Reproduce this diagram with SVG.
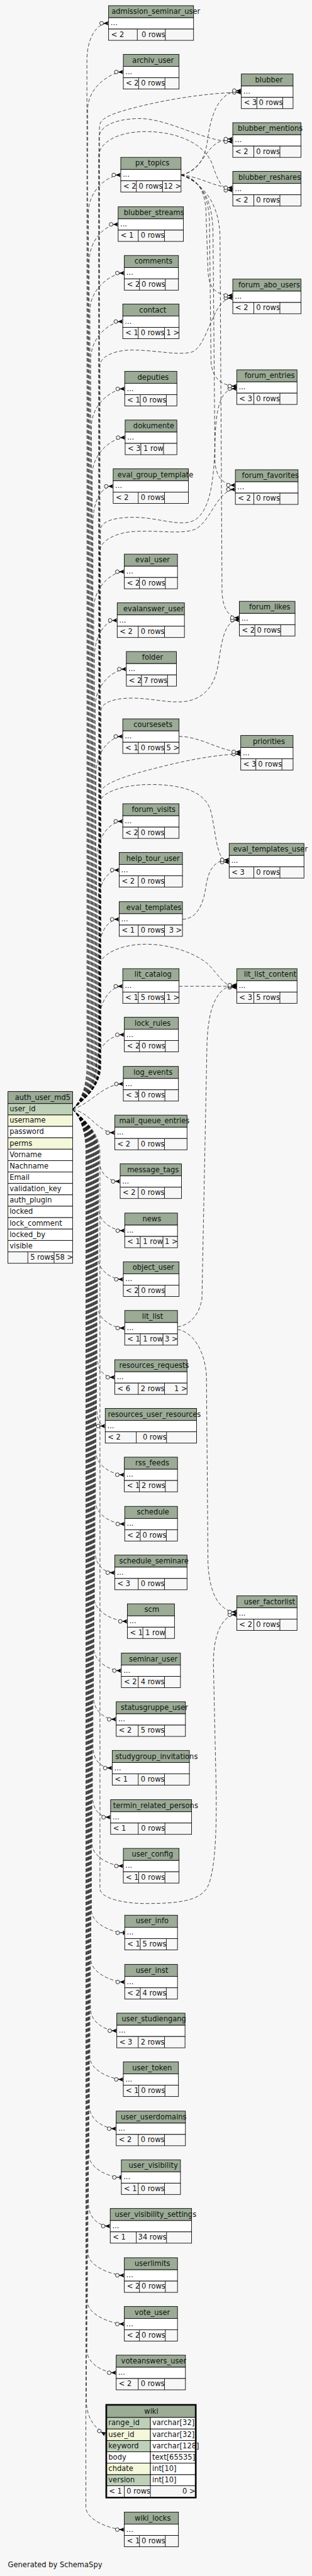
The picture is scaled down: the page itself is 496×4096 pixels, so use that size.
<svg xmlns="http://www.w3.org/2000/svg" width="496" height="4096" viewBox="0 0 496 4096">
<style>
.h{fill:#9bab96}.b{fill:#fff}.f{fill:#f7f7f7}.k{fill:#bed1b8}.i{fill:#f4f7da}
.tb rect{stroke:#000;stroke-width:1.1}
.dv{stroke:#000;stroke-width:1.1;fill:none}
text{font-family:"DejaVu Sans","Liberation Sans",sans-serif;font-size:14.4px;fill:#111}
.r{text-anchor:end}
.e{fill:none;stroke:#000;stroke-width:0.9;stroke-dasharray:7 4;marker-end:url(#cr)}
.e1{fill:none;stroke:#000;stroke-width:0.9;stroke-dasharray:7 4;marker-end:url(#tee)}
</style>
<defs>
<marker id="cr" viewBox="0 0 22 14" markerWidth="22" markerHeight="14" refX="21" refY="7" orient="auto" markerUnits="userSpaceOnUse" overflow="visible">
<path d="M10.5 7H21" stroke="#000" stroke-width="1" fill="none"/>
<polygon points="11,7 21,2.6 18.5,7 21,11.4" fill="#000"/>
<circle cx="7" cy="7" r="3.7" fill="#f7f7f7" stroke="#000" stroke-width="1"/>
</marker>
<marker id="tee" viewBox="0 0 22 14" markerWidth="22" markerHeight="14" refX="21" refY="7" orient="auto" markerUnits="userSpaceOnUse" overflow="visible">
<path d="M10.5 7H21" stroke="#000" stroke-width="1" fill="none"/>
<rect x="17.5" y="3" width="2.6" height="8" fill="#000"/>
<circle cx="7" cy="7" r="3.7" fill="#f7f7f7" stroke="#000" stroke-width="1"/>
</marker>
</defs>
<rect width="496" height="4096" fill="#f7f7f7"/>
<g transform="scale(0.7986)">
<g id="connectors">
<path class="e" d="M144.6 2208.7C158 2195 173 2170 173 2120L173 121.3C173 76.3 191.2 46.3 216.2 46.3"/>
<path class="e" d="M144.6 2208.7C158 2195 174.5 2170 174.5 2120L174.5 218.3C174.5 173.3 220.5 143.3 245.5 143.3"/>
<path class="e" d="M144.6 2208.7C158 2195 176 2170 176 2120L176 423.3C176 378.3 215.4 348.3 240.4 348.3"/>
<path class="e" d="M144.6 2208.7C158 2195 177.5 2170 177.5 2120L177.5 521.7C177.5 476.7 210.2 446.7 235.2 446.7"/>
<path class="e" d="M144.6 2208.7C158 2195 179 2170 179 2120L179 618.7C179 573.7 222.5 543.7 247.5 543.7"/>
<path class="e" d="M144.6 2208.7C158 2195 180.5 2170 180.5 2120L180.5 715.3C180.5 670.3 219.4 640.3 244.4 640.3"/>
<path class="e" d="M144.6 2208.7C158 2195 182 2170 182 2120L182 849.3C182 804.3 223.3 774.3 248.3 774.3"/>
<path class="e" d="M144.6 2208.7C158 2195 183.5 2170 183.5 2120L183.5 946.3C183.5 901.3 224.1 871.3 249.1 871.3"/>
<path class="e" d="M144.6 2208.7C158 2195 185 2170 185 2120L185 1043.3C185 998.3 200.3 968.3 225.3 968.3"/>
<path class="e" d="M144.6 2208.7C158 2195 186.5 2170 186.5 2120L186.5 1213.3C186.5 1168.3 222.5 1138.3 247.5 1138.3"/>
<path class="e" d="M144.6 2208.7C158 2195 188 2170 188 2120L188 1310.3C188 1265.3 208.3 1235.3 233.3 1235.3"/>
<path class="e" d="M144.6 2208.7C158 2195 189.5 2170 189.5 2120L189.5 1407.3C189.5 1362.3 226.5 1332.3 251.5 1332.3"/>
<path class="e" d="M144.6 2208.7C158 2195 191 2170 191 2120L191 1541.3C191 1496.3 219.4 1466.3 244.4 1466.3"/>
<path class="e" d="M144.6 2208.7C158 2195 192.5 2170 192.5 2120L192.5 1710.3C192.5 1665.3 219.4 1635.3 244.4 1635.3"/>
<path class="e" d="M144.6 2208.7C158 2195 194 2170 194 2120L194 1807.3C194 1762.3 212.2 1732.3 237.2 1732.3"/>
<path class="e" d="M144.6 2208.7C158 2195 195.5 2170 195.5 2120L195.5 1905.3C195.5 1860.3 212.2 1830.3 237.2 1830.3"/>
<path class="e" d="M144.6 2208.7C158 2195 197 2170 197 2120L197 2038.7C197 1993.7 219.4 1963.7 244.4 1963.7"/>
<path class="e" d="M144.6 2208.7C165 2190 190 2160 192 2120C194 2080 222.5 2060.3 247.5 2060.3"/>
<path class="e" d="M144.6 2208.7C185 2195 205 2158.3 245.5 2158.3"/>
<path class="e" d="M144.6 2208.7C180 2215 195 2255.3 228.5 2255.3"/>
<path class="e" d="M144.6 2208.7C158 2222 197 2250 197 2295L197 2307.3C197 2334.3 214.2 2352.3 239.2 2352.3"/>
<path class="e" d="M144.6 2208.7C158 2222 196 2250 196 2295L196 2405.3C196 2432.3 223.3 2450.3 248.3 2450.3"/>
<path class="e" d="M144.6 2208.7C158 2222 195 2250 195 2295L195 2502.3C195 2529.3 220.5 2547.3 245.5 2547.3"/>
<path class="e" d="M144.6 2208.7C158 2222 194 2250 194 2295L194 2599.3C194 2626.3 223.3 2644.3 248.3 2644.3"/>
<path class="e" d="M144.6 2208.7C158 2222 193 2250 193 2295L193 2697.3C193 2724.3 203.5 2742.3 228.5 2742.3"/>
<path class="e" d="M144.6 2208.7C158 2222 192 2250 192 2295L192 2794.3C192 2821.3 197 2839.3 209.5 2839.3"/>
<path class="e" d="M144.6 2208.7C158 2222 191 2250 191 2295L191 2891.3C191 2918.3 222.5 2936.3 247.5 2936.3"/>
<path class="e" d="M144.6 2208.7C158 2222 190 2250 190 2295L190 2989.3C190 3016.3 223.3 3034.3 248.3 3034.3"/>
<path class="e" d="M144.6 2208.7C158 2222 189 2250 189 2295L189 3086.3C189 3113.3 203.5 3131.3 228.5 3131.3"/>
<path class="e" d="M144.6 2208.7C158 2222 188 2250 188 2295L188 3183.3C188 3210.3 228.5 3228.3 253.5 3228.3"/>
<path class="e" d="M144.6 2208.7C158 2222 187 2250 187 2295L187 3281.3C187 3308.3 216.6 3326.3 241.6 3326.3"/>
<path class="e" d="M144.6 2208.7C158 2222 186 2250 186 2295L186 3378.3C186 3405.3 206.3 3423.3 231.3 3423.3"/>
<path class="e" d="M144.6 2208.7C158 2222 185 2250 185 2295L185 3475.3C185 3502.3 198.4 3520.3 223.4 3520.3"/>
<path class="e" d="M144.6 2208.7C158 2222 184 2250 184 2295L184 3573.3C184 3600.3 195.2 3618.3 220.2 3618.3"/>
<path class="e" d="M144.6 2208.7C158 2222 183 2250 183 2295L183 3670.3C183 3697.3 220.5 3715.3 245.5 3715.3"/>
<path class="e1" d="M144.6 2208.7C158 2222 182 2250 182 2295L182 3803.3C182 3830.3 223.3 3848.3 248.3 3848.3"/>
<path class="e" d="M144.6 2208.7C158 2222 181 2250 181 2295L181 3901.3C181 3928.3 223.3 3946.3 248.3 3946.3"/>
<path class="e" d="M144.6 2208.7C158 2222 180 2250 180 2295L180 3998.3C180 4025.3 207.5 4043.3 232.5 4043.3"/>
<path class="e" d="M144.6 2208.7C158 2222 179 2250 179 2295L179 4095.3C179 4122.3 220.5 4140.3 245.5 4140.3"/>
<path class="e" d="M144.6 2208.7C158 2222 178 2250 178 2295L178 4193.3C178 4220.3 206.3 4238.3 231.3 4238.3"/>
<path class="e1" d="M144.6 2208.7C158 2222 177 2250 177 2295L177 4290.3C177 4317.3 216.6 4335.3 241.6 4335.3"/>
<path class="e" d="M144.6 2208.7C158 2222 176 2250 176 2295L176 4387.3C176 4414.3 194.4 4432.3 219.4 4432.3"/>
<path class="e" d="M144.6 2208.7C158 2222 175 2250 175 2295L175 4485.3C175 4512.3 222.5 4530.3 247.5 4530.3"/>
<path class="e" d="M144.6 2208.7C158 2222 174 2250 174 2295L174 4582.3C174 4609.3 222.5 4627.3 247.5 4627.3"/>
<path class="e" d="M144.6 2208.7C158 2222 173 2250 173 2295L173 4679.3C173 4706.3 206.3 4724.3 231.3 4724.3"/>
<path class="e" d="M144.6 2208.7C158 2222 172 2250 172 2295L172 4780C172 4815 190 4836 209.9 4847"/>
<path class="e" d="M144.6 2208.7C158 2222 171 2250 171 2295L171 4991.7C171 5018.7 222.5 5036.7 247.5 5036.7"/>
<path class="e" d="M144.6 2208.7C158 2195 198 2170 198 2120L198 252C198 236 220 226 277 212C350 194 430 184 480.4 184"/>
<path class="e" d="M144.6 2208.7C158 2195 197 2170 197 2120L197 275C197 252 228 237 275 236C335 235 405 282 463.4 282"/>
<path class="e" d="M144.6 2208.7C158 2195 196.5 2170 196.5 2120L196.5 312C196.5 285 232 262 290 262C352 262 405 285 422 325C432 355 440 378.8 463.4 378.8"/>
<path class="e" d="M144.6 2208.7C158 2195 199 2170 199 2120L199 728C199 710 228 697 262 697C310 697 345 707 378 702C415 696 420 593.2 463.4 593.2"/>
<path class="e" d="M144.6 2208.7C158 2195 200 2170 200 2120L200 1055C200 1038 228 1030 265 1030C310 1030 345 1045 375 1040C418 1032 426 960 428 880C430 800 442 773.8 471.3 773.8"/>
<path class="e" d="M144.6 2208.7C158 2195 198.5 2170 198.5 2120L198.5 1098C198.5 1078 228 1060 270 1058C320 1056 352 1063 382 1056C418 1048 430 974.5 468.5 974.5"/>
<path class="e" d="M144.6 2208.7C158 2195 201 2170 201 2120L201 1415C201 1400 225 1390 262 1390C302 1390 332 1400 366 1397C402 1393 425 1370 433 1330C441 1290 442 1234.5 476.4 1234.5"/>
<path class="e" d="M144.6 2208.7C158 2195 199.5 2170 199.5 2120L199.5 1580C199.5 1565 230 1550 300 1532C360 1516 430 1501.5 479.2 1501.5"/>
<path class="e" d="M144.6 2208.7C158 2195 199 2170 199 2120L199 1598C199 1580 240 1562 300 1562C360 1562 405 1575 418 1610C430 1645 428 1716.5 456.2 1716.5"/>
<path class="e" d="M144.6 2208.7C158 2195 198 2170 198 2120L198 1925C198 1900 240 1880 290 1880C340 1880 388 1898 412 1918C432 1935 445 1966 471.3 1966"/>
<path class="e" d="M144.6 2208.7C158 2222 199 2250 199 2295L199 3760C199 3778 240 3790 290 3790C350 3790 392 3786 410 3762C428 3738 432 3650 430 3550L425 3320C423 3260 440 3215 471.3 3215"/>
<path class="e" d="M360.4 348.3C392 342 408 318 413 280C419 235 432 180.5 480.4 180.5"/>
<path class="e" d="M360.4 348.3C385 344 400 322 414 302C426 286 440 276.8 463.4 276.8"/>
<path class="e" d="M360.4 348.3C400 352 428 373.8 463.4 373.8"/>
<path class="e" d="M360.4 348.3C395 355 408 382 410 420L414 540C416 575 430 588.2 463.4 588.2"/>
<path class="e" d="M360.4 348.3C400 358 415 392 417 440L420 720C422 752 440 768.8 471.3 768.8"/>
<path class="e" d="M360.4 348.3C405 362 422 400 424 460L428 920C430 950 445 966 468.5 966"/>
<path class="e" d="M360.4 348.3C410 368 436 410 438 470L442 1180C444 1212 455 1230 476.4 1230"/>
<path class="e" d="M356.4 1466.3C400 1466 440 1497 479.2 1497"/>
<path class="e" d="M363.2 1830.3C392 1830 405 1800 410 1765C415 1730 428 1712 456.2 1712"/>
<path class="e" d="M356.4 1963.7L471.3 1963.7"/>
<path class="e" d="M353.3 2642C380 2638 398 2615 402 2585L412 2080C414 2010 430 1961.5 471.3 1961.5"/>
<path class="e" d="M353.3 2647C385 2652 408 2690 411 2740L414 3110C416 3170 435 3209.5 471.3 3209.5"/>
</g>
<g class="tb">
<g id="admission_seminar_user"><rect class="h" x="216.2" y="11.3" width="169.1" height="24"/><rect class="b" x="216.2" y="35.3" width="169.1" height="22.5"/><rect class="f" x="216.2" y="57.8" width="169.1" height="22.5"/><path class="dv" d="M273.3 57.8V80.3M329.1 57.8V80.3"/><text x="221.8" y="27.8">admission_seminar_user</text><text x="220.2" y="50.3">...</text><text x="221.2" y="73.3">&lt; 2</text><text class="r" x="329.1" y="73.3">0 rows</text></g>
<g id="archiv_user"><rect class="h" x="245.5" y="108.3" width="110.9" height="24"/><rect class="b" x="245.5" y="132.3" width="110.9" height="22.5"/><rect class="f" x="245.5" y="154.8" width="110.9" height="22.5"/><path class="dv" d="M276 154.8V177.3M328.3 154.8V177.3"/><text x="263.4" y="124.8">archiv_user</text><text x="249.5" y="147.3">...</text><text x="250.5" y="170.3">&lt; 2</text><text class="r" x="328.3" y="170.3">0 rows</text></g>
<g id="blubber"><rect class="h" x="480.4" y="147.3" width="103" height="24"/><rect class="b" x="480.4" y="171.3" width="103" height="22.5"/><rect class="f" x="480.4" y="193.8" width="103" height="22.5"/><path class="dv" d="M511.3 193.8V216.3M562.8 193.8V216.3"/><text x="507.7" y="163.8">blubber</text><text x="484.4" y="186.3">...</text><text x="485.4" y="209.3">&lt; 3</text><text class="r" x="562.8" y="209.3">0 rows</text></g>
<g id="blubber_mentions"><rect class="h" x="463.4" y="244.3" width="135.8" height="24"/><rect class="b" x="463.4" y="268.3" width="135.8" height="22.5"/><rect class="f" x="463.4" y="290.8" width="135.8" height="22.5"/><path class="dv" d="M505.3 290.8V313.3M557.2 290.8V313.3"/><text x="473.3" y="260.8">blubber_mentions</text><text x="467.4" y="283.3">...</text><text x="468.4" y="306.3">&lt; 2</text><text class="r" x="557.2" y="306.3">0 rows</text></g>
<g id="px_topics"><rect class="h" x="240.4" y="313.3" width="120" height="24"/><rect class="b" x="240.4" y="337.3" width="120" height="22.5"/><rect class="f" x="240.4" y="359.8" width="120" height="22.5"/><path class="dv" d="M271.3 359.8V382.3M323.6 359.8V382.3"/><text x="269.3" y="329.8">px_topics</text><text x="244.4" y="352.3">...</text><text x="245.4" y="375.3">&lt; 2</text><text class="r" x="323.6" y="375.3">0 rows</text><text class="r" x="360.9" y="375.3">12 &gt;</text></g>
<g id="blubber_reshares"><rect class="h" x="463.4" y="341.3" width="135.8" height="24"/><rect class="b" x="463.4" y="365.3" width="135.8" height="22.5"/><rect class="f" x="463.4" y="387.8" width="135.8" height="22.5"/><path class="dv" d="M505.3 387.8V410.3M557.2 387.8V410.3"/><text x="474.5" y="357.8">blubber_reshares</text><text x="467.4" y="380.3">...</text><text x="468.4" y="403.3">&lt; 2</text><text class="r" x="557.2" y="403.3">0 rows</text></g>
<g id="blubber_streams"><rect class="h" x="235.2" y="411.7" width="129.9" height="24"/><rect class="b" x="235.2" y="435.7" width="129.9" height="22.5"/><rect class="f" x="235.2" y="458.2" width="129.9" height="22.5"/><path class="dv" d="M275.2 458.2V480.7M327.5 458.2V480.7"/><text x="246.3" y="428.2">blubber_streams</text><text x="239.2" y="450.7">...</text><text x="240.2" y="473.7">&lt; 1</text><text class="r" x="327.5" y="473.7">0 rows</text></g>
<g id="comments"><rect class="h" x="247.5" y="508.7" width="107.7" height="24"/><rect class="b" x="247.5" y="532.7" width="107.7" height="22.5"/><rect class="f" x="247.5" y="555.2" width="107.7" height="22.5"/><path class="dv" d="M277.6 555.2V577.7M329.1 555.2V577.7"/><text x="267.7" y="525.2">comments</text><text x="251.5" y="547.7">...</text><text x="252.5" y="570.7">&lt; 2</text><text class="r" x="329.1" y="570.7">0 rows</text></g>
<g id="contact"><rect class="h" x="244.4" y="605.3" width="112" height="24"/><rect class="b" x="244.4" y="629.3" width="112" height="22.5"/><rect class="f" x="244.4" y="651.8" width="112" height="22.5"/><path class="dv" d="M275.2 651.8V674.3M327.5 651.8V674.3"/><text x="277.2" y="621.8">contact</text><text x="248.4" y="644.3">...</text><text x="249.4" y="667.3">&lt; 1</text><text class="r" x="327.5" y="667.3">0 rows</text><text class="r" x="356.9" y="667.3">1 &gt;</text></g>
<g id="forum_abo_users"><rect class="h" x="463.4" y="555.7" width="135.8" height="24"/><rect class="b" x="463.4" y="579.7" width="135.8" height="22.5"/><rect class="f" x="463.4" y="602.2" width="135.8" height="22.5"/><path class="dv" d="M505.3 602.2V624.7M557.2 602.2V624.7"/><text x="474.5" y="572.2">forum_abo_users</text><text x="467.4" y="594.7">...</text><text x="468.4" y="617.7">&lt; 2</text><text class="r" x="557.2" y="617.7">0 rows</text></g>
<g id="deputies"><rect class="h" x="248.3" y="739.3" width="103.8" height="24"/><rect class="b" x="248.3" y="763.3" width="103.8" height="22.5"/><rect class="f" x="248.3" y="785.8" width="103.8" height="22.5"/><path class="dv" d="M279.2 785.8V808.3M331.1 785.8V808.3"/><text x="273.7" y="755.8">deputies</text><text x="252.3" y="778.3">...</text><text x="253.3" y="801.3">&lt; 1</text><text class="r" x="331.1" y="801.3">0 rows</text></g>
<g id="forum_entries"><rect class="h" x="471.3" y="736.3" width="120" height="24"/><rect class="b" x="471.3" y="760.3" width="120" height="22.5"/><rect class="f" x="471.3" y="782.8" width="120" height="22.5"/><path class="dv" d="M505.3 782.8V805.3M557.2 782.8V805.3"/><text x="486.7" y="752.8">forum_entries</text><text x="475.3" y="775.3">...</text><text x="476.3" y="798.3">&lt; 3</text><text class="r" x="557.2" y="798.3">0 rows</text></g>
<g id="dokumente"><rect class="h" x="249.1" y="836.3" width="103" height="24"/><rect class="b" x="249.1" y="860.3" width="103" height="22.5"/><rect class="f" x="249.1" y="882.8" width="103" height="22.5"/><path class="dv" d="M280.4 882.8V905.3M325.5 882.8V905.3"/><text x="265.3" y="852.8">dokumente</text><text x="253.1" y="875.3">...</text><text x="254.1" y="898.3">&lt; 3</text><text class="r" x="325.5" y="898.3">1 row</text></g>
<g id="eval_group_template"><rect class="h" x="225.3" y="933.3" width="149.7" height="24"/><rect class="b" x="225.3" y="957.3" width="149.7" height="22.5"/><rect class="f" x="225.3" y="979.8" width="149.7" height="22.5"/><path class="dv" d="M275.2 979.8V1002.3M327.5 979.8V1002.3"/><text x="233.7" y="949.8">eval_group_template</text><text x="229.3" y="972.3">...</text><text x="230.3" y="995.3">&lt; 2</text><text class="r" x="327.5" y="995.3">0 rows</text></g>
<g id="forum_favorites"><rect class="h" x="468.5" y="935.3" width="124.8" height="24"/><rect class="b" x="468.5" y="959.3" width="124.8" height="22.5"/><rect class="f" x="468.5" y="981.8" width="124.8" height="22.5"/><path class="dv" d="M505.3 981.8V1004.3M557.2 981.8V1004.3"/><text x="481.6" y="951.8">forum_favorites</text><text x="472.5" y="974.3">...</text><text x="473.5" y="997.3">&lt; 2</text><text class="r" x="557.2" y="997.3">0 rows</text></g>
<g id="eval_user"><rect class="h" x="247.5" y="1103.3" width="105.8" height="24"/><rect class="b" x="247.5" y="1127.3" width="105.8" height="22.5"/><rect class="f" x="247.5" y="1149.8" width="105.8" height="22.5"/><path class="dv" d="M277.6 1149.8V1172.3M329.1 1149.8V1172.3"/><text x="269.3" y="1119.8">eval_user</text><text x="251.5" y="1142.3">...</text><text x="252.5" y="1165.3">&lt; 2</text><text class="r" x="329.1" y="1165.3">0 rows</text></g>
<g id="evalanswer_user"><rect class="h" x="233.3" y="1200.3" width="133.8" height="24"/><rect class="b" x="233.3" y="1224.3" width="133.8" height="22.5"/><rect class="f" x="233.3" y="1246.8" width="133.8" height="22.5"/><path class="dv" d="M275.2 1246.8V1269.3M327.5 1246.8V1269.3"/><text x="245.5" y="1216.8">evalanswer_user</text><text x="237.3" y="1239.3">...</text><text x="238.3" y="1262.3">&lt; 2</text><text class="r" x="327.5" y="1262.3">0 rows</text></g>
<g id="forum_likes"><rect class="h" x="476.4" y="1197.3" width="110.9" height="24"/><rect class="b" x="476.4" y="1221.3" width="110.9" height="22.5"/><rect class="f" x="476.4" y="1243.8" width="110.9" height="22.5"/><path class="dv" d="M507.3 1243.8V1266.3M558.8 1243.8V1266.3"/><text x="495.8" y="1213.8">forum_likes</text><text x="480.4" y="1236.3">...</text><text x="481.4" y="1259.3">&lt; 2</text><text class="r" x="558.8" y="1259.3">0 rows</text></g>
<g id="folder"><rect class="h" x="251.5" y="1297.3" width="99.8" height="24"/><rect class="b" x="251.5" y="1321.3" width="99.8" height="22.5"/><rect class="f" x="251.5" y="1343.8" width="99.8" height="22.5"/><path class="dv" d="M281.6 1343.8V1366.3M333.5 1343.8V1366.3"/><text x="282.8" y="1313.8">folder</text><text x="255.5" y="1336.3">...</text><text x="256.5" y="1359.3">&lt; 2</text><text class="r" x="333.5" y="1359.3">7 rows</text></g>
<g id="coursesets"><rect class="h" x="244.4" y="1431.3" width="112" height="24"/><rect class="b" x="244.4" y="1455.3" width="112" height="22.5"/><rect class="f" x="244.4" y="1477.8" width="112" height="22.5"/><path class="dv" d="M275.2 1477.8V1500.3M327.5 1477.8V1500.3"/><text x="265.7" y="1447.8">coursesets</text><text x="248.4" y="1470.3">...</text><text x="249.4" y="1493.3">&lt; 1</text><text class="r" x="327.5" y="1493.3">0 rows</text><text class="r" x="356.9" y="1493.3">5 &gt;</text></g>
<g id="priorities"><rect class="h" x="479.2" y="1464.3" width="104.2" height="24"/><rect class="b" x="479.2" y="1488.3" width="104.2" height="22.5"/><rect class="f" x="479.2" y="1510.8" width="104.2" height="22.5"/><path class="dv" d="M509.3 1510.8V1533.3M561.2 1510.8V1533.3"/><text x="503.4" y="1480.8">priorities</text><text x="483.2" y="1503.3">...</text><text x="484.2" y="1526.3">&lt; 3</text><text class="r" x="561.2" y="1526.3">0 rows</text></g>
<g id="forum_visits"><rect class="h" x="244.4" y="1600.3" width="112" height="24"/><rect class="b" x="244.4" y="1624.3" width="112" height="22.5"/><rect class="f" x="244.4" y="1646.8" width="112" height="22.5"/><path class="dv" d="M275.2 1646.8V1669.3M327.5 1646.8V1669.3"/><text x="262.2" y="1616.8">forum_visits</text><text x="248.4" y="1639.3">...</text><text x="249.4" y="1662.3">&lt; 2</text><text class="r" x="327.5" y="1662.3">0 rows</text></g>
<g id="eval_templates_user"><rect class="h" x="456.2" y="1679.3" width="148.9" height="24"/><rect class="b" x="456.2" y="1703.3" width="148.9" height="22.5"/><rect class="f" x="456.2" y="1725.8" width="148.9" height="22.5"/><path class="dv" d="M505.3 1725.8V1748.3M557.2 1725.8V1748.3"/><text x="464.2" y="1695.8">eval_templates_user</text><text x="460.2" y="1718.3">...</text><text x="461.2" y="1741.3">&lt; 3</text><text class="r" x="557.2" y="1741.3">0 rows</text></g>
<g id="help_tour_user"><rect class="h" x="237.2" y="1697.3" width="126" height="24"/><rect class="b" x="237.2" y="1721.3" width="126" height="22.5"/><rect class="f" x="237.2" y="1743.8" width="126" height="22.5"/><path class="dv" d="M275.2 1743.8V1766.3M327.5 1743.8V1766.3"/><text x="251.5" y="1713.8">help_tour_user</text><text x="241.2" y="1736.3">...</text><text x="242.2" y="1759.3">&lt; 2</text><text class="r" x="327.5" y="1759.3">0 rows</text></g>
<g id="eval_templates"><rect class="h" x="237.2" y="1795.3" width="126" height="24"/><rect class="b" x="237.2" y="1819.3" width="126" height="22.5"/><rect class="f" x="237.2" y="1841.8" width="126" height="22.5"/><path class="dv" d="M275.2 1841.8V1864.3M327.5 1841.8V1864.3"/><text x="251.5" y="1811.8">eval_templates</text><text x="241.2" y="1834.3">...</text><text x="242.2" y="1857.3">&lt; 1</text><text class="r" x="327.5" y="1857.3">0 rows</text><text class="r" x="362.2" y="1857.3">3 &gt;</text></g>
<g id="lit_catalog"><rect class="h" x="244.4" y="1928.7" width="112" height="24"/><rect class="b" x="244.4" y="1952.7" width="112" height="22.5"/><rect class="f" x="244.4" y="1975.2" width="112" height="22.5"/><path class="dv" d="M275.2 1975.2V1997.7M327.5 1975.2V1997.7"/><text x="267.7" y="1945.2">lit_catalog</text><text x="248.4" y="1967.7">...</text><text x="249.4" y="1990.7">&lt; 1</text><text class="r" x="327.5" y="1990.7">5 rows</text><text class="r" x="356.9" y="1990.7">1 &gt;</text></g>
<g id="lit_list_content"><rect class="h" x="471.3" y="1928.7" width="120" height="24"/><rect class="b" x="471.3" y="1952.7" width="120" height="22.5"/><rect class="f" x="471.3" y="1975.2" width="120" height="22.5"/><path class="dv" d="M505.3 1975.2V1997.7M557.2 1975.2V1997.7"/><text x="485.5" y="1945.2">lit_list_content</text><text x="475.3" y="1967.7">...</text><text x="476.3" y="1990.7">&lt; 3</text><text class="r" x="557.2" y="1990.7">5 rows</text></g>
<g id="lock_rules"><rect class="h" x="247.5" y="2025.3" width="107.7" height="24"/><rect class="b" x="247.5" y="2049.3" width="107.7" height="22.5"/><rect class="f" x="247.5" y="2071.8" width="107.7" height="22.5"/><path class="dv" d="M277.6 2071.8V2094.3M329.1 2071.8V2094.3"/><text x="268.1" y="2041.8">lock_rules</text><text x="251.5" y="2064.3">...</text><text x="252.5" y="2087.3">&lt; 2</text><text class="r" x="329.1" y="2087.3">0 rows</text></g>
<g id="log_events"><rect class="h" x="245.5" y="2123.3" width="109.7" height="24"/><rect class="b" x="245.5" y="2147.3" width="109.7" height="22.5"/><rect class="f" x="245.5" y="2169.8" width="109.7" height="22.5"/><path class="dv" d="M276 2169.8V2192.3M328.3 2169.8V2192.3"/><text x="265.7" y="2139.8">log_events</text><text x="249.5" y="2162.3">...</text><text x="250.5" y="2185.3">&lt; 3</text><text class="r" x="328.3" y="2185.3">0 rows</text></g>
<g id="auth_user_md5"><rect class="h" x="15.8" y="2173.3" width="128.8" height="24"/><rect class="k" x="15.8" y="2197.3" width="128.8" height="22.7"/><rect class="i" x="15.8" y="2220" width="128.8" height="22.7"/><rect class="b" x="15.8" y="2242.7" width="128.8" height="22.7"/><rect class="i" x="15.8" y="2265.4" width="128.8" height="22.7"/><rect class="b" x="15.8" y="2288.1" width="128.8" height="22.8"/><rect class="b" x="15.8" y="2310.9" width="128.8" height="22.7"/><rect class="b" x="15.8" y="2333.6" width="128.8" height="22.7"/><rect class="b" x="15.8" y="2356.3" width="128.8" height="22.7"/><rect class="b" x="15.8" y="2379" width="128.8" height="22.7"/><rect class="b" x="15.8" y="2401.7" width="128.8" height="22.7"/><rect class="b" x="15.8" y="2424.4" width="128.8" height="22.7"/><rect class="b" x="15.8" y="2447.1" width="128.8" height="22.7"/><rect class="b" x="15.8" y="2469.8" width="128.8" height="22.8"/><rect class="f" x="15.8" y="2492.6" width="128.8" height="22.7"/><path class="dv" d="M55.4 2492.6V2515.3M107.7 2492.6V2515.3"/><text x="29.7" y="2189.8">auth_user_md5</text><text x="19" y="2212.8">user_id</text><text x="19" y="2235.5">username</text><text x="19" y="2258.2">password</text><text x="19" y="2280.9">perms</text><text x="19" y="2303.6">Vorname</text><text x="19" y="2326.4">Nachname</text><text x="19" y="2349.1">Email</text><text x="19" y="2371.8">validation_key</text><text x="19" y="2394.5">auth_plugin</text><text x="19" y="2417.2">locked</text><text x="19" y="2439.9">lock_comment</text><text x="19" y="2462.6">locked_by</text><text x="19" y="2485.3">visible</text><text class="r" x="107.7" y="2508.1">5 rows</text><text class="r" x="145.5" y="2508.1">58 &gt;</text></g>
<g id="mail_queue_entries"><rect class="h" x="228.5" y="2220.3" width="143.8" height="24"/><rect class="b" x="228.5" y="2244.3" width="143.8" height="22.5"/><rect class="f" x="228.5" y="2266.8" width="143.8" height="22.5"/><path class="dv" d="M275.2 2266.8V2289.3M327.5 2266.8V2289.3"/><text x="237.2" y="2236.8">mail_queue_entries</text><text x="232.5" y="2259.3">...</text><text x="233.5" y="2282.3">&lt; 2</text><text class="r" x="327.5" y="2282.3">0 rows</text></g>
<g id="message_tags"><rect class="h" x="239.2" y="2317.3" width="122" height="24"/><rect class="b" x="239.2" y="2341.3" width="122" height="22.5"/><rect class="f" x="239.2" y="2363.8" width="122" height="22.5"/><path class="dv" d="M275.2 2363.8V2386.3M327.5 2363.8V2386.3"/><text x="253.1" y="2333.8">message_tags</text><text x="243.2" y="2356.3">...</text><text x="244.2" y="2379.3">&lt; 2</text><text class="r" x="327.5" y="2379.3">0 rows</text></g>
<g id="news"><rect class="h" x="248.3" y="2415.3" width="105" height="24"/><rect class="b" x="248.3" y="2439.3" width="105" height="22.5"/><rect class="f" x="248.3" y="2461.8" width="105" height="22.5"/><path class="dv" d="M279.2 2461.8V2484.3M324.4 2461.8V2484.3"/><text x="283.6" y="2431.8">news</text><text x="252.3" y="2454.3">...</text><text x="253.3" y="2477.3">&lt; 1</text><text class="r" x="324.4" y="2477.3">1 row</text><text class="r" x="353.8" y="2477.3">1 &gt;</text></g>
<g id="object_user"><rect class="h" x="245.5" y="2512.3" width="110.9" height="24"/><rect class="b" x="245.5" y="2536.3" width="110.9" height="22.5"/><rect class="f" x="245.5" y="2558.8" width="110.9" height="22.5"/><path class="dv" d="M276 2558.8V2581.3M328.3 2558.8V2581.3"/><text x="263.8" y="2528.8">object_user</text><text x="249.5" y="2551.3">...</text><text x="250.5" y="2574.3">&lt; 2</text><text class="r" x="328.3" y="2574.3">0 rows</text></g>
<g id="lit_list"><rect class="h" x="248.3" y="2609.3" width="105" height="24"/><rect class="b" x="248.3" y="2633.3" width="105" height="22.5"/><rect class="f" x="248.3" y="2655.8" width="105" height="22.5"/><path class="dv" d="M279.2 2655.8V2678.3M324.4 2655.8V2678.3"/><text x="282.8" y="2625.8">lit_list</text><text x="252.3" y="2648.3">...</text><text x="253.3" y="2671.3">&lt; 1</text><text class="r" x="324.4" y="2671.3">1 row</text><text class="r" x="353.8" y="2671.3">3 &gt;</text></g>
<g id="resources_requests"><rect class="h" x="228.5" y="2707.3" width="143.8" height="24"/><rect class="b" x="228.5" y="2731.3" width="143.8" height="22.5"/><rect class="f" x="228.5" y="2753.8" width="143.8" height="22.5"/><path class="dv" d="M275.2 2753.8V2776.3M327.5 2753.8V2776.3"/><text x="237.2" y="2723.8">resources_requests</text><text x="232.5" y="2746.3">...</text><text x="233.5" y="2769.3">&lt; 6</text><text class="r" x="327.5" y="2769.3">2 rows</text><text class="r" x="372.8" y="2769.3">1 &gt;</text></g>
<g id="resources_user_resources"><rect class="h" x="209.5" y="2804.3" width="181.8" height="24"/><rect class="b" x="209.5" y="2828.3" width="181.8" height="22.5"/><rect class="f" x="209.5" y="2850.8" width="181.8" height="22.5"/><path class="dv" d="M271.3 2850.8V2873.3M331.5 2850.8V2873.3"/><text x="214.7" y="2820.8">resources_user_resources</text><text x="213.5" y="2843.3">...</text><text x="214.5" y="2866.3">&lt; 2</text><text class="r" x="331.5" y="2866.3">0 rows</text></g>
<g id="rss_feeds"><rect class="h" x="247.5" y="2901.3" width="105.8" height="24"/><rect class="b" x="247.5" y="2925.3" width="105.8" height="22.5"/><rect class="f" x="247.5" y="2947.8" width="105.8" height="22.5"/><path class="dv" d="M277.6 2947.8V2970.3M329.1 2947.8V2970.3"/><text x="269.3" y="2917.8">rss_feeds</text><text x="251.5" y="2940.3">...</text><text x="252.5" y="2963.3">&lt; 1</text><text class="r" x="329.1" y="2963.3">2 rows</text></g>
<g id="schedule"><rect class="h" x="248.3" y="2999.3" width="105" height="24"/><rect class="b" x="248.3" y="3023.3" width="105" height="22.5"/><rect class="f" x="248.3" y="3045.8" width="105" height="22.5"/><path class="dv" d="M279.2 3045.8V3068.3M331.1 3045.8V3068.3"/><text x="272.3" y="3015.8">schedule</text><text x="252.3" y="3038.3">...</text><text x="253.3" y="3061.3">&lt; 2</text><text class="r" x="331.1" y="3061.3">0 rows</text></g>
<g id="schedule_seminare"><rect class="h" x="228.5" y="3096.3" width="143.8" height="24"/><rect class="b" x="228.5" y="3120.3" width="143.8" height="22.5"/><rect class="f" x="228.5" y="3142.8" width="143.8" height="22.5"/><path class="dv" d="M275.2 3142.8V3165.3M327.5 3142.8V3165.3"/><text x="237.2" y="3112.8">schedule_seminare</text><text x="232.5" y="3135.3">...</text><text x="233.5" y="3158.3">&lt; 3</text><text class="r" x="327.5" y="3158.3">0 rows</text></g>
<g id="scm"><rect class="h" x="253.5" y="3193.3" width="93.8" height="24"/><rect class="b" x="253.5" y="3217.3" width="93.8" height="22.5"/><rect class="f" x="253.5" y="3239.8" width="93.8" height="22.5"/><path class="dv" d="M284.4 3239.8V3262.3M329.1 3239.8V3262.3"/><text x="287.5" y="3209.8">scm</text><text x="257.5" y="3232.3">...</text><text x="258.5" y="3255.3">&lt; 1</text><text class="r" x="329.1" y="3255.3">1 row</text></g>
<g id="user_factorlist"><rect class="h" x="471.3" y="3177.3" width="120" height="24"/><rect class="b" x="471.3" y="3201.3" width="120" height="22.5"/><rect class="f" x="471.3" y="3223.8" width="120" height="22.5"/><path class="dv" d="M505.3 3223.8V3246.3M557.2 3223.8V3246.3"/><text x="485.5" y="3193.8">user_factorlist</text><text x="475.3" y="3216.3">...</text><text x="476.3" y="3239.3">&lt; 2</text><text class="r" x="557.2" y="3239.3">0 rows</text></g>
<g id="seminar_user"><rect class="h" x="241.6" y="3291.3" width="117.6" height="24"/><rect class="b" x="241.6" y="3315.3" width="117.6" height="22.5"/><rect class="f" x="241.6" y="3337.8" width="117.6" height="22.5"/><path class="dv" d="M275.2 3337.8V3360.3M327.5 3337.8V3360.3"/><text x="256.6" y="3307.8">seminar_user</text><text x="245.6" y="3330.3">...</text><text x="246.6" y="3353.3">&lt; 2</text><text class="r" x="327.5" y="3353.3">4 rows</text></g>
<g id="statusgruppe_user"><rect class="h" x="231.3" y="3388.3" width="137.8" height="24"/><rect class="b" x="231.3" y="3412.3" width="137.8" height="22.5"/><rect class="f" x="231.3" y="3434.8" width="137.8" height="22.5"/><path class="dv" d="M275.2 3434.8V3457.3M327.5 3434.8V3457.3"/><text x="240.4" y="3404.8">statusgruppe_user</text><text x="235.3" y="3427.3">...</text><text x="236.3" y="3450.3">&lt; 2</text><text class="r" x="327.5" y="3450.3">5 rows</text></g>
<g id="studygroup_invitations"><rect class="h" x="223.4" y="3485.3" width="153.6" height="24"/><rect class="b" x="223.4" y="3509.3" width="153.6" height="22.5"/><rect class="f" x="223.4" y="3531.8" width="153.6" height="22.5"/><path class="dv" d="M275.2 3531.8V3554.3M327.5 3531.8V3554.3"/><text x="229.7" y="3501.8">studygroup_invitations</text><text x="227.4" y="3524.3">...</text><text x="228.4" y="3547.3">&lt; 1</text><text class="r" x="327.5" y="3547.3">0 rows</text></g>
<g id="termin_related_persons"><rect class="h" x="220.2" y="3583.3" width="161.2" height="24"/><rect class="b" x="220.2" y="3607.3" width="161.2" height="22.5"/><rect class="f" x="220.2" y="3629.8" width="161.2" height="22.5"/><path class="dv" d="M275.2 3629.8V3652.3M328.3 3629.8V3652.3"/><text x="225" y="3599.8">termin_related_persons</text><text x="224.2" y="3622.3">...</text><text x="225.2" y="3645.3">&lt; 1</text><text class="r" x="328.3" y="3645.3">0 rows</text></g>
<g id="user_config"><rect class="h" x="245.5" y="3680.3" width="110.9" height="24"/><rect class="b" x="245.5" y="3704.3" width="110.9" height="22.5"/><rect class="f" x="245.5" y="3726.8" width="110.9" height="22.5"/><path class="dv" d="M276 3726.8V3749.3M328.3 3726.8V3749.3"/><text x="262.2" y="3696.8">user_config</text><text x="249.5" y="3719.3">...</text><text x="250.5" y="3742.3">&lt; 1</text><text class="r" x="328.3" y="3742.3">0 rows</text></g>
<g id="user_info"><rect class="h" x="248.3" y="3813.3" width="105" height="24"/><rect class="b" x="248.3" y="3837.3" width="105" height="22.5"/><rect class="f" x="248.3" y="3859.8" width="105" height="22.5"/><path class="dv" d="M279.2 3859.8V3882.3M331.1 3859.8V3882.3"/><text x="270.1" y="3829.8">user_info</text><text x="252.3" y="3852.3">...</text><text x="253.3" y="3875.3">&lt; 1</text><text class="r" x="331.1" y="3875.3">5 rows</text></g>
<g id="user_inst"><rect class="h" x="248.3" y="3911.3" width="105" height="24"/><rect class="b" x="248.3" y="3935.3" width="105" height="22.5"/><rect class="f" x="248.3" y="3957.8" width="105" height="22.5"/><path class="dv" d="M279.2 3957.8V3980.3M331.1 3957.8V3980.3"/><text x="270.1" y="3927.8">user_inst</text><text x="252.3" y="3950.3">...</text><text x="253.3" y="3973.3">&lt; 2</text><text class="r" x="331.1" y="3973.3">4 rows</text></g>
<g id="user_studiengang"><rect class="h" x="232.5" y="4008.3" width="135.8" height="24"/><rect class="b" x="232.5" y="4032.3" width="135.8" height="22.5"/><rect class="f" x="232.5" y="4054.8" width="135.8" height="22.5"/><path class="dv" d="M275.2 4054.8V4077.3M327.5 4054.8V4077.3"/><text x="242.4" y="4024.8">user_studiengang</text><text x="236.5" y="4047.3">...</text><text x="237.5" y="4070.3">&lt; 3</text><text class="r" x="327.5" y="4070.3">2 rows</text></g>
<g id="user_token"><rect class="h" x="245.5" y="4105.3" width="109.7" height="24"/><rect class="b" x="245.5" y="4129.3" width="109.7" height="22.5"/><rect class="f" x="245.5" y="4151.8" width="109.7" height="22.5"/><path class="dv" d="M276 4151.8V4174.3M328.3 4151.8V4174.3"/><text x="263.4" y="4121.8">user_token</text><text x="249.5" y="4144.3">...</text><text x="250.5" y="4167.3">&lt; 1</text><text class="r" x="328.3" y="4167.3">0 rows</text></g>
<g id="user_userdomains"><rect class="h" x="231.3" y="4203.3" width="137.8" height="24"/><rect class="b" x="231.3" y="4227.3" width="137.8" height="22.5"/><rect class="f" x="231.3" y="4249.8" width="137.8" height="22.5"/><path class="dv" d="M275.2 4249.8V4272.3M327.5 4249.8V4272.3"/><text x="240.4" y="4219.8">user_userdomains</text><text x="235.3" y="4242.3">...</text><text x="236.3" y="4265.3">&lt; 2</text><text class="r" x="327.5" y="4265.3">0 rows</text></g>
<g id="user_visibility"><rect class="h" x="241.6" y="4300.3" width="117.6" height="24"/><rect class="b" x="241.6" y="4324.3" width="117.6" height="22.5"/><rect class="f" x="241.6" y="4346.8" width="117.6" height="22.5"/><path class="dv" d="M275.2 4346.8V4369.3M327.5 4346.8V4369.3"/><text x="256.2" y="4316.8">user_visibility</text><text x="245.6" y="4339.3">...</text><text x="246.6" y="4362.3">&lt; 1</text><text class="r" x="327.5" y="4362.3">0 rows</text></g>
<g id="user_visibility_settings"><rect class="h" x="219.4" y="4397.3" width="162" height="24"/><rect class="b" x="219.4" y="4421.3" width="162" height="22.5"/><rect class="f" x="219.4" y="4443.8" width="162" height="22.5"/><path class="dv" d="M271.3 4443.8V4466.3M331.5 4443.8V4466.3"/><text x="228.5" y="4413.8">user_visibility_settings</text><text x="223.4" y="4436.3">...</text><text x="224.4" y="4459.3">&lt; 1</text><text class="r" x="331.5" y="4459.3">34 rows</text></g>
<g id="userlimits"><rect class="h" x="247.5" y="4495.3" width="105.8" height="24"/><rect class="b" x="247.5" y="4519.3" width="105.8" height="22.5"/><rect class="f" x="247.5" y="4541.8" width="105.8" height="22.5"/><path class="dv" d="M277.6 4541.8V4564.3M329.1 4541.8V4564.3"/><text x="268.1" y="4511.8">userlimits</text><text x="251.5" y="4534.3">...</text><text x="252.5" y="4557.3">&lt; 2</text><text class="r" x="329.1" y="4557.3">0 rows</text></g>
<g id="vote_user"><rect class="h" x="247.5" y="4592.3" width="105.8" height="24"/><rect class="b" x="247.5" y="4616.3" width="105.8" height="22.5"/><rect class="f" x="247.5" y="4638.8" width="105.8" height="22.5"/><path class="dv" d="M277.6 4638.8V4661.3M329.1 4638.8V4661.3"/><text x="268.1" y="4608.8">vote_user</text><text x="251.5" y="4631.3">...</text><text x="252.5" y="4654.3">&lt; 2</text><text class="r" x="329.1" y="4654.3">0 rows</text></g>
<g id="voteanswers_user"><rect class="h" x="231.3" y="4689.3" width="137.8" height="24"/><rect class="b" x="231.3" y="4713.3" width="137.8" height="22.5"/><rect class="f" x="231.3" y="4735.8" width="137.8" height="22.5"/><path class="dv" d="M275.2 4735.8V4758.3M327.5 4735.8V4758.3"/><text x="241.2" y="4705.8">voteanswers_user</text><text x="235.3" y="4728.3">...</text><text x="236.3" y="4751.3">&lt; 2</text><text class="r" x="327.5" y="4751.3">0 rows</text></g>
<g id="wiki"><rect class="h" x="212.7" y="4789.3" width="175.8" height="24"/><rect class="k" x="212.7" y="4813.3" width="86.7" height="23"/><rect class="b" x="299.4" y="4813.3" width="89.1" height="23"/><rect class="i" x="212.7" y="4836.3" width="86.7" height="23"/><rect class="b" x="299.4" y="4836.3" width="89.1" height="23"/><rect class="k" x="212.7" y="4859.3" width="86.7" height="22.4"/><rect class="b" x="299.4" y="4859.3" width="89.1" height="22.4"/><rect class="b" x="212.7" y="4881.7" width="86.7" height="22.6"/><rect class="b" x="299.4" y="4881.7" width="89.1" height="22.6"/><rect class="i" x="212.7" y="4904.3" width="86.7" height="23"/><rect class="b" x="299.4" y="4904.3" width="89.1" height="23"/><rect class="k" x="212.7" y="4927.3" width="86.7" height="22"/><rect class="b" x="299.4" y="4927.3" width="89.1" height="22"/><rect class="f" x="212.7" y="4949.3" width="175.8" height="23"/><path class="dv" d="M247.5 4949.3V4972.3M299.4 4949.3V4972.3"/><rect x="211.3" y="4788" width="178.6" height="185" fill="none" style="stroke-width:2.8"/><text x="287.1" y="4805.8">wiki</text><text x="215.8" y="4828.8">range_id</text><text x="303" y="4828.8">varchar[32]</text><text x="215.8" y="4851.8">user_id</text><text x="303" y="4851.8">varchar[32]</text><text x="215.8" y="4874.5">keyword</text><text x="303" y="4874.5">varchar[128]</text><text x="215.8" y="4897.2">body</text><text x="303" y="4897.2">text[65535]</text><text x="215.8" y="4919.8">chdate</text><text x="303" y="4919.8">int[10]</text><text x="215.8" y="4942.5">version</text><text x="303" y="4942.5">int[10]</text><text x="217" y="4965.3">&lt; 1</text><text class="r" x="299.4" y="4965.3">0 rows</text><text class="r" x="389" y="4965.3">0 &gt;</text></g>
<g id="wiki_locks"><rect class="h" x="247.5" y="5001.7" width="107.7" height="24"/><rect class="b" x="247.5" y="5025.7" width="107.7" height="22.5"/><rect class="f" x="247.5" y="5048.2" width="107.7" height="22.5"/><path class="dv" d="M277.6 5048.2V5070.7M329.1 5048.2V5070.7"/><text x="268.1" y="5018.2">wiki_locks</text><text x="251.5" y="5040.7">...</text><text x="252.5" y="5063.7">&lt; 1</text><text class="r" x="329.1" y="5063.7">0 rows</text></g>
</g>
<text x="15.8" y="5112">Generated by SchemaSpy</text>
</g>
</svg>
